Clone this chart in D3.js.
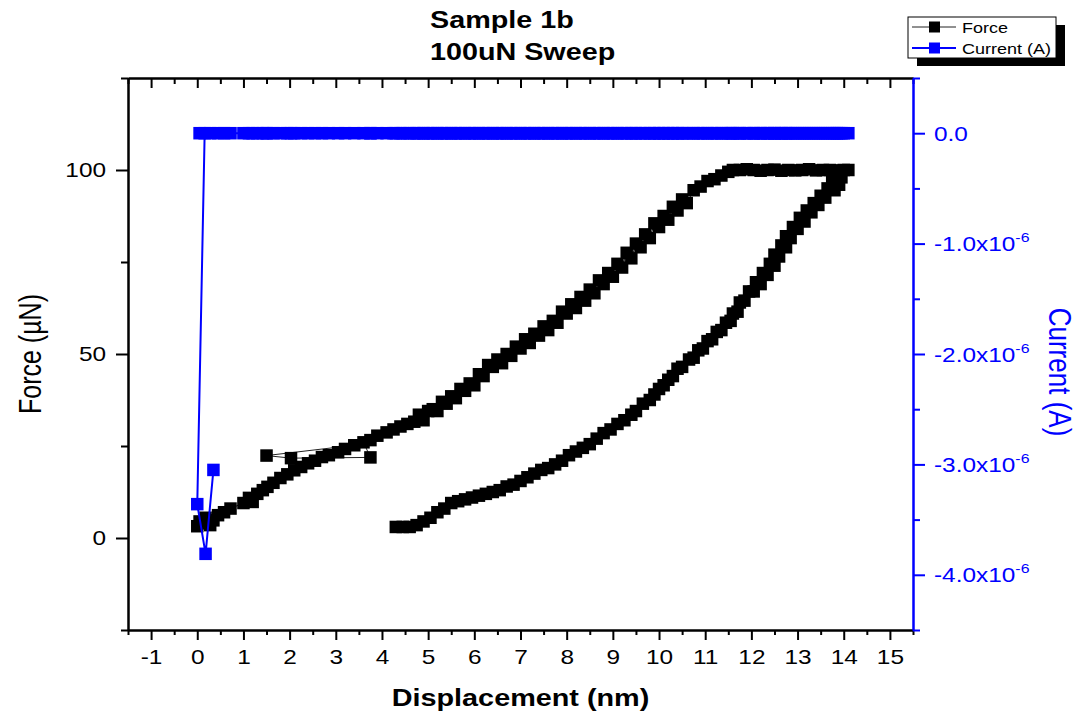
<!DOCTYPE html>
<html>
<head>
<meta charset="utf-8">
<script src="https://cdn.jsdelivr.net/npm/d3@7"></script>
<style>
body { margin: 0; background: #fff; }
svg { display: block; font-family: "Liberation Sans", Arial, sans-serif; }
</style>
</head>
<body>
<div id="chart"></div>
<script>
// ---- data ----
var displacement = [
  0.35, 0.18, 0.0, 0.16, 0.05, 0.28, 0.45, 0.58, 0.72, 1.0,
  1.12, 1.2, 1.3, 1.42, 1.52, 1.65, 1.8, 1.95, 2.1, 2.25,
  2.4, 2.55, 2.7, 2.85, 3.05, 3.2, 3.4, 1.5, 2.03, 3.75,
  3.6, 3.75, 3.9, 4.1, 4.25, 4.4, 4.55, 4.7, 4.8, 4.9,
  5.0, 5.1, 5.2, 5.3, 5.4, 5.5, 5.6, 5.7, 5.8, 5.9,
  6.0, 6.1, 6.2, 6.3, 6.4, 6.5, 6.6, 6.7, 6.8, 6.9,
  7.0, 7.1, 7.2, 7.3, 7.4, 7.5, 7.6, 7.7, 7.8, 7.9,
  8.0, 8.1, 8.2, 8.3, 8.4, 8.5, 8.6, 8.7, 8.8, 8.9,
  9.0, 9.1, 9.2, 9.3, 9.4, 9.5, 9.6, 9.7, 9.8, 9.9,
  10.0, 10.1, 10.2, 10.3, 10.4, 10.5, 10.6, 10.75, 10.9, 11.05,
  11.2, 11.35, 11.5, 11.6, 11.75, 11.9, 12.05, 12.2, 12.35, 12.5,
  12.65, 12.8, 12.95, 13.1, 13.25, 13.4, 13.55, 13.7, 13.85, 14.0,
  14.1, 13.95, 13.85, 13.9, 13.75, 13.8, 13.65, 13.6, 13.5, 13.45,
  13.35, 13.3, 13.2, 13.15, 13.05, 13.0, 12.9, 12.85, 12.75, 12.75,
  12.65, 12.6, 12.5, 12.5, 12.4, 12.35, 12.25, 12.2, 12.1, 12.05,
  11.95, 11.85, 11.75, 11.7, 11.6, 11.55, 11.45, 11.35, 11.25, 11.15,
  11.05, 10.95, 10.85, 10.75, 10.65, 10.5, 10.4, 10.3, 10.2, 10.1,
  10.0, 9.9, 9.8, 9.65, 9.5, 9.4, 9.25, 9.1, 8.95, 8.8,
  8.65, 8.5, 8.35, 8.2, 8.05, 7.9, 7.75, 7.6, 7.45, 7.3,
  7.15, 7.0, 6.85, 6.7, 6.55, 6.4, 6.25, 6.1, 5.95, 5.8,
  5.65, 5.5, 5.35, 5.2, 5.05, 4.9, 4.75, 4.6, 4.45, 4.3
];
var force = [
  4.8, 5.5, 3.2, 4.0, 4.5, 3.5, 6.2, 7.0, 8.0, 9.5,
  10.9, 9.8, 12.0, 13.0, 13.9, 15.0, 16.3, 17.3, 18.4, 19.3,
  20.3, 21.0, 22.0, 22.5, 23.3, 24.2, 25.2, 22.4, 21.7, 21.9,
  26.0, 26.6, 27.8, 28.7, 29.5, 30.3, 31.0, 31.6, 33.5, 32.0,
  34.5, 35.0, 34.5, 37.0, 36.5, 38.5, 38.0, 40.5, 40.0, 42.0,
  41.5, 44.5, 44.0, 47.0, 46.5, 48.5, 47.5, 50.0, 49.5, 52.0,
  51.5, 54.0, 53.0, 55.5, 55.0, 57.5, 56.5, 59.0, 58.5, 61.5,
  61.0, 63.5, 62.5, 65.5, 64.5, 67.5, 66.5, 70.0, 69.0, 72.0,
  71.0, 74.5, 73.5, 77.5, 76.0, 80.0, 79.0, 82.5, 81.5, 85.5,
  84.5, 87.5, 86.5, 90.0, 89.0, 92.0, 91.0, 94.5, 95.5, 97.0,
  97.5, 98.5, 99.5, 100, 100, 100.2, 100, 99.8, 100, 100.1,
  99.8, 100, 99.9, 100, 100.2, 99.9, 100, 100, 99.9, 100,
  100, 98.0, 99.0, 96.0, 97.0, 94.5, 95.0, 92.5, 93.0, 90.5,
  91.0, 88.5, 89.0, 86.0, 87.0, 84.0, 84.5, 81.5, 82.0, 79.0,
  79.5, 76.5, 77.0, 74.0, 74.5, 71.5, 72.0, 69.0, 69.5, 67.0,
  67.0, 64.5, 64.0, 61.5, 61.0, 59.0, 58.5, 56.5, 56.0, 54.0,
  53.5, 51.5, 51.0, 49.0, 48.5, 46.5, 46.0, 44.0, 43.0, 41.5,
  40.5, 39.0, 37.5, 36.5, 34.5, 33.5, 32.0, 31.0, 29.5, 28.5,
  27.0, 25.5, 24.5, 23.5, 22.5, 21.0, 20.0, 19.0, 18.5, 17.5,
  16.5, 15.5, 14.5, 14.0, 13.0, 12.5, 12.0, 11.5, 11.0, 10.5,
  10.0, 9.5, 8.0, 7.0, 5.5, 4.5, 3.5, 3.0, 3.0, 3.0
];
var current = [
  -3.05e-6, -3.81e-6, -3.36e-6, 0, 0, 0, 0, 0, 0, 0,
  0, 0, 0, 0, 0, 0, 0, 0, 0, 0,
  0, 0, 0, 0, 0, 0, 0, 0, 0, 0,
  0, 0, 0, 0, 0, 0, 0, 0, 0, 0,
  0, 0, 0, 0, 0, 0, 0, 0, 0, 0,
  0, 0, 0, 0, 0, 0, 0, 0, 0, 0,
  0, 0, 0, 0, 0, 0, 0, 0, 0, 0,
  0, 0, 0, 0, 0, 0, 0, 0, 0, 0,
  0, 0, 0, 0, 0, 0, 0, 0, 0, 0,
  0, 0, 0, 0, 0, 0, 0, 0, 0, 0,
  0, 0, 0, 0, 0, 0, 0, 0, 0, 0,
  0, 0, 0, 0, 0, 0, 0, 0, 0, 0,
  0, 0, 0, 0, 0, 0, 0, 0, 0, 0,
  0, 0, 0, 0, 0, 0, 0, 0, 0, 0,
  0, 0, 0, 0, 0, 0, 0, 0, 0, 0,
  0, 0, 0, 0, 0, 0, 0, 0, 0, 0,
  0, 0, 0, 0, 0, 0, 0, 0, 0, 0,
  0, 0, 0, 0, 0, 0, 0, 0, 0, 0,
  0, 0, 0, 0, 0, 0, 0, 0, 0, 0,
  0, 0, 0, 0, 0, 0, 0, 0, 0, 0,
  0, 0, 0, 0, 0, 0, 0, 0, 0, 0
];

var xTicks = [-1, 0, 1, 2, 3, 4, 5, 6, 7, 8, 9, 10, 11, 12, 13, 14, 15];
var xMinorTicks = [-1.5, -0.5, 0.5, 1.5, 2.5, 3.5, 4.5, 5.5, 6.5, 7.5, 8.5, 9.5, 10.5, 11.5, 12.5, 13.5, 14.5, 15.5];
var forceTicks = [0, 50, 100];
var forceMinorTicks = [-25, 25, 75, 125];
var currentTicks = [0, -1e-6, -2e-6, -3e-6, -4e-6];
var currentMinorTicks = [0.5e-6, -0.5e-6, -1.5e-6, -2.5e-6, -3.5e-6, -4.5e-6];
var currentLabels = ["0.0", "-1.0x10", "-2.0x10", "-3.0x10", "-4.0x10"];

// ---- layout ----
var width = 1083, height = 716;
var plotLeft = 128, plotRight = 913, plotTop = 78, plotBottom = 630;
var sx = 1.22; // the original text is a little wider than plain Arial
var BLUE = "#0000ff";

var svg = d3.select("#chart").append("svg")
    .attr("width", width)
    .attr("height", height);

var x = d3.scaleLinear().domain([-1.5, 15.5]).range([plotLeft, plotRight]);
var yF = d3.scaleLinear().domain([-25, 125]).range([plotBottom, plotTop]);
var yC = d3.scaleLinear().domain([-4.5e-6, 0.5e-6]).range([plotBottom, plotTop]);

function styleAxis(g, color) {
    g.attr("font-family", null).attr("font-size", 20);
    g.select(".domain").attr("stroke", color).attr("stroke-width", 2);
    g.selectAll(".tick line").attr("stroke", color).attr("stroke-width", 2);
    g.selectAll(".tick text").attr("fill", color);
}

// bottom
svg.append("g").attr("transform", "translate(0," + plotBottom + ")")
    .call(d3.axisBottom(x).tickValues(xMinorTicks).tickSize(5).tickSizeOuter(0).tickFormat(""))
    .call(styleAxis, "#000");
var bottomAxis = svg.append("g").attr("transform", "translate(0," + plotBottom + ")")
    .call(d3.axisBottom(x).tickValues(xTicks).tickSize(10).tickPadding(10).tickSizeOuter(0)
        .tickFormat(function(d) { return String(d); }))
    .call(styleAxis, "#000");
bottomAxis.selectAll(".tick text").attr("transform", "scale(" + sx + ",1)");

// top (ticks point inward)
svg.append("g").attr("transform", "translate(0," + plotTop + ")")
    .call(d3.axisTop(x).tickValues(xMinorTicks).tickSize(-6).tickSizeOuter(0).tickFormat(""))
    .call(styleAxis, "#000");
svg.append("g").attr("transform", "translate(0," + plotTop + ")")
    .call(d3.axisTop(x).tickValues(xTicks).tickSize(-10).tickSizeOuter(0).tickFormat(""))
    .call(styleAxis, "#000");

// left
svg.append("g").attr("transform", "translate(" + plotLeft + ",0)")
    .call(d3.axisLeft(yF).tickValues(forceMinorTicks).tickSize(7).tickSizeOuter(0).tickFormat(""))
    .call(styleAxis, "#000");
var leftAxis = svg.append("g").attr("transform", "translate(" + plotLeft + ",0)")
    .call(d3.axisLeft(yF).tickValues(forceTicks).tickSize(12).tickPadding(6).tickSizeOuter(0))
    .call(styleAxis, "#000");
leftAxis.selectAll(".tick text").attr("transform", "scale(" + sx + ",1)");

// right (blue)
svg.append("g").attr("transform", "translate(" + plotRight + ",0)")
    .call(d3.axisRight(yC).tickValues(currentMinorTicks).tickSize(7).tickSizeOuter(0).tickFormat(""))
    .call(styleAxis, BLUE);
var rightAxis = svg.append("g").attr("transform", "translate(" + plotRight + ",0)")
    .call(d3.axisRight(yC).tickValues(currentTicks).tickSize(12).tickSizeOuter(0).tickFormat(""))
    .call(styleAxis, BLUE);
rightAxis.selectAll(".tick").each(function(d, i) {
    var t = d3.select(this).append("text")
        .attr("transform", "translate(21,7) scale(" + sx + ",1)")
        .attr("fill", BLUE)
        .attr("font-size", 20)
        .attr("text-anchor", "start");
    t.append("tspan").text(currentLabels[i]);
    if (d !== 0) {
        t.append("tspan").attr("dy", -9).attr("font-size", 13).text("-6");
    }
});

// ---- series ----
var pts = displacement.map(function(d, i) {
    return { x: d, f: force[i], c: current[i] };
});

var forceLine = d3.line().x(function(d) { return x(d.x); }).y(function(d) { return yF(d.f); });
var currentLine = d3.line().x(function(d) { return x(d.x); }).y(function(d) { return yC(d.c); });
var ms = 12.5;

svg.append("path").datum(pts)
    .attr("d", forceLine)
    .attr("fill", "none")
    .attr("stroke", "#222")
    .attr("stroke-width", 1);
svg.append("g").selectAll("rect").data(pts).join("rect")
    .attr("x", function(d) { return x(d.x) - ms / 2; })
    .attr("y", function(d) { return yF(d.f) - ms / 2; })
    .attr("width", ms).attr("height", ms)
    .attr("fill", "#000");

svg.append("path").datum(pts)
    .attr("d", currentLine)
    .attr("fill", "none")
    .attr("stroke", BLUE)
    .attr("stroke-width", 2);
svg.append("g").selectAll("rect").data(pts).join("rect")
    .attr("x", function(d) { return x(d.x) - ms / 2; })
    .attr("y", function(d) { return yC(d.c) - ms / 2; })
    .attr("width", ms).attr("height", ms)
    .attr("fill", BLUE);

// ---- titles ----
var title = svg.append("g").attr("font-weight", "bold").attr("font-size", 23);
title.append("text").attr("transform", "translate(430,28) scale(1.25,1)").text("Sample 1b");
title.append("text").attr("transform", "translate(430,60) scale(1.25,1)").text("100uN Sweep");

svg.append("text")
    .attr("transform", "translate(" + ((plotLeft + plotRight) / 2) + ",706) scale(1.2,1)")
    .attr("text-anchor", "middle")
    .attr("font-weight", "bold")
    .attr("font-size", 24)
    .text("Displacement (nm)");

svg.append("text")
    .attr("transform", "translate(41," + ((plotTop + plotBottom) / 2) + ") scale(" + sx + ",1) rotate(-90)")
    .attr("text-anchor", "middle")
    .attr("font-size", 25)
    .text("Force (\u00b5N)");

svg.append("text")
    .attr("transform", "translate(1049,372) scale(" + sx + ",1) rotate(90)")
    .attr("text-anchor", "middle")
    .attr("font-size", 26)
    .attr("fill", BLUE)
    .text("Current (A)");

// ---- legend ----
var legend = svg.append("g");
legend.append("rect").attr("x", 917).attr("y", 25).attr("width", 148).attr("height", 41).attr("fill", "#000");
legend.append("rect").attr("x", 908).attr("y", 17).attr("width", 148).attr("height", 41)
    .attr("fill", "#fff").attr("stroke", "#000").attr("stroke-width", 1);

var legendItems = [
    { name: "Force", color: "#000", line: "#222", lw: 1, y: 27 },
    { name: "Current (A)", color: BLUE, line: BLUE, lw: 2, y: 48 }
];
legendItems.forEach(function(it) {
    legend.append("line").attr("x1", 912).attr("x2", 956).attr("y1", it.y).attr("y2", it.y)
        .attr("stroke", it.line).attr("stroke-width", it.lw);
    legend.append("rect").attr("x", 929).attr("y", it.y - 5.5).attr("width", 11).attr("height", 11)
        .attr("fill", it.color);
    legend.append("text").attr("transform", "translate(962," + (it.y + 5.5) + ") scale(1.2,1)")
        .attr("font-size", 15).text(it.name);
});
</script>
</body>
</html>
